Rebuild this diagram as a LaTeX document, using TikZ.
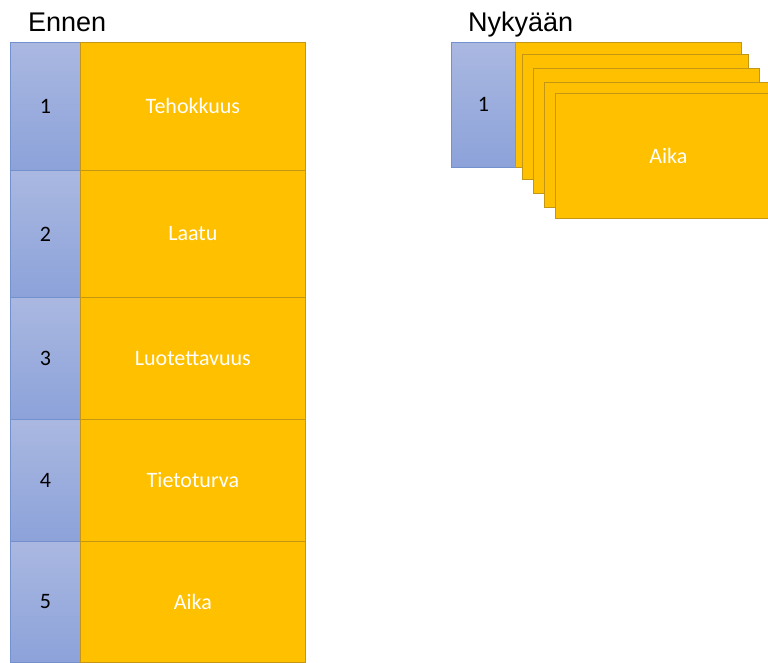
\documentclass[tikz,border=0pt]{standalone}
\usepackage{fontspec}
\setmainfont{Carlito}
\newfontfamily\titlefont{Liberation Sans}
\usepackage{tikz}
\usetikzlibrary{positioning}
\definecolor{numtop}{RGB}{170,184,225}
\definecolor{numbot}{RGB}{140,162,217}
\definecolor{numline}{RGB}{114,145,206}
\definecolor{goldfill}{RGB}{255,192,0}
\definecolor{goldline}{RGB}{196,150,20}
\tikzset{
  numbox/.style={rectangle, anchor=north west, inner sep=0pt, top color=numtop,
    bottom color=numbot, draw=numline, line width=0.8pt, font=\fontsize{22}{26}\selectfont},
  goldbox/.style={rectangle, anchor=north west, inner sep=0pt, fill=goldfill,
    draw=goldline, line width=0.8pt, text=white, font=\fontsize{22}{26}\selectfont},
  title/.style={anchor=base west, inner sep=0pt, font=\titlefont\fontsize{27}{32}\selectfont}
}
\begin{document}
\begin{tikzpicture}[x=1pt, y=-1pt]
\useasboundingbox (0,0) rectangle (768,662);

% Before: one row per criterion
\node[title] (ennen) at (28,31) {Ennen};
\foreach \top/\h/\n/\txt in {42/128/1/Tehokkuus, 170/127/2/Laatu, 297/122/3/Luotettavuus,
                             419/122/4/Tietoturva, 541/121/5/Aika}{
  \node[numbox, minimum width=70pt, minimum height=\h pt] (num\n) at (10,\top) {\n};
  \node[goldbox, minimum width=225pt, minimum height=\h pt] (crit\n) at (80,\top) {\txt};
}

% Now: one number, stacked cards
\node[title] (nyky) at (468,31) {Nykyään};
\node[numbox, minimum width=64pt, minimum height=125pt] (numnow) at (451,42) {1};
\foreach \x/\y/\i in {515/42/1, 522/54/2, 533/68/3, 544/82/4}{
  \node[goldbox, minimum width=226pt, minimum height=125pt] (card\i) at (\x,\y) {};
}
\node[goldbox, minimum width=226pt, minimum height=125pt] (card5) at (555,93) {Aika};
\end{tikzpicture}
\end{document}
